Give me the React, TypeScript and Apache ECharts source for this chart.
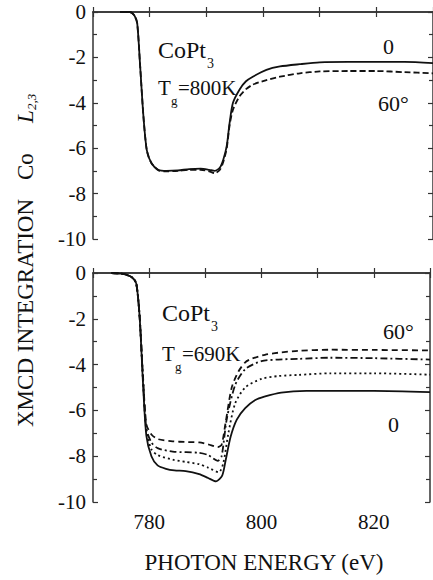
import React, { useEffect, useRef } from "react";
import * as echarts from "echarts";

// ---- data (photon energy in eV, integrated XMCD) ----
const xTicks = [770, 780, 790, 800, 810, 820, 830];
const yTicks = [0, -2, -4, -6, -8, -10];

// Top panel, Tg = 800K
const top0E = [774.8, 776.5, 777.3, 777.8, 778.3, 778.9, 779.5, 780.3, 781.5, 783, 785, 787, 789, 790.5, 791.5, 792.4, 793.0, 793.6, 794.1, 794.7, 795.9, 797, 798.2, 800.6, 803, 806.5, 810, 815, 820, 825, 830];
const top0V = [0, 0, -0.15, -0.5, -2.3, -4.6, -6.1, -6.65, -6.95, -7.0, -6.98, -6.92, -6.9, -6.95, -7.0, -6.85, -6.5, -5.9, -4.9, -4.0, -3.4, -3.05, -2.85, -2.55, -2.4, -2.3, -2.22, -2.2, -2.2, -2.2, -2.25];
const top60E = [774.8, 776.5, 777.3, 777.8, 778.3, 778.9, 779.5, 780.3, 781.5, 783, 785, 787, 789, 790.5, 791.5, 792.4, 793.0, 793.6, 794.1, 794.7, 795.9, 797, 798.2, 800.6, 803, 806.5, 810, 815, 820, 825, 830];
const top60V = [0, 0, -0.15, -0.5, -2.3, -4.6, -6.1, -6.65, -6.97, -7.02, -7.0, -6.95, -6.95, -7.02, -7.1, -6.95, -6.6, -6.0, -5.0, -4.3, -3.7, -3.4, -3.2, -3.0, -2.85, -2.7, -2.62, -2.6, -2.6, -2.65, -2.7];

// Bottom panel, Tg = 690K (0, dotted, dash-dot, 60°)
const bot0E = [773.3, 775, 776, 777, 777.7, 778.3, 778.9, 779.5, 780.4, 781.5, 783, 784.5, 786.5, 788.9, 790.5, 791.9, 793.0, 793.6, 794.5, 795.6, 797.1, 798.9, 800.5, 803.5, 808, 812, 820, 830];
const bot0V = [0, -0.03, -0.08, -0.2, -0.45, -1.9, -4.8, -7.1, -8.0, -8.4, -8.55, -8.62, -8.65, -8.78, -8.95, -9.1, -8.85, -8.2, -7.15, -6.4, -5.9, -5.55, -5.4, -5.22, -5.15, -5.15, -5.15, -5.2];
const botAE = [773.3, 775, 776, 777, 777.7, 778.3, 778.9, 779.5, 780.4, 781.5, 784.2, 786.5, 788.9, 790.5, 792.4, 793.2, 794.1, 795.3, 797.1, 800, 803, 806.5, 812.3, 820, 830];
const botAV = [0, -0.03, -0.08, -0.2, -0.45, -1.9, -4.7, -6.9, -7.7, -7.95, -8.15, -8.25, -8.35, -8.5, -8.7, -8.3, -7.0, -5.7, -5.0, -4.62, -4.5, -4.45, -4.38, -4.38, -4.44];
const botBE = [773.3, 775, 776, 777, 777.7, 778.3, 778.9, 779.5, 780.4, 781.5, 784.2, 788.9, 790.5, 792.2, 792.9, 793.8, 795.3, 797.1, 800, 803, 806.5, 812.3, 820, 830];
const botBV = [0, -0.03, -0.08, -0.2, -0.45, -1.9, -4.6, -6.8, -7.4, -7.65, -7.8, -7.85, -7.95, -8.2, -8.0, -6.4, -4.9, -4.2, -3.85, -3.78, -3.75, -3.7, -3.72, -3.78];
const bot60E = [773.3, 775, 776, 777, 777.7, 778.3, 778.9, 779.5, 780.4, 781.5, 784.2, 786.5, 788.9, 790.5, 792.2, 792.9, 793.6, 794.7, 795.9, 797.1, 798.2, 800.6, 803, 806.5, 812.3, 820, 830];
const bot60V = [0, -0.03, -0.08, -0.2, -0.45, -1.9, -4.5, -6.6, -7.05, -7.25, -7.35, -7.38, -7.4, -7.48, -7.6, -7.5, -6.55, -5.0, -4.3, -3.9, -3.75, -3.57, -3.48, -3.4, -3.35, -3.36, -3.38];

const zip = (xs: number[], ys: number[]) => xs.map((x, i) => [x, ys[i]]);

const FONT = "Liberation Serif";
const INK = "#111";

export default function App() {
  const ref = useRef<HTMLDivElement>(null);
  useEffect(() => {
    if (!ref.current) return;
    const chart = echarts.init(ref.current, null, { renderer: "svg" });

    const axisLine = { show: true, lineStyle: { color: "#333", width: 1.5 } };
    const mkX = (gridIndex: number, position: "top" | "bottom", labels: boolean) => ({
      type: "value",
      gridIndex,
      position,
      min: xTicks[0],
      max: xTicks[xTicks.length - 1],
      interval: 10,
      axisLine,
      axisTick: { show: true, inside: true, length: 5, lineStyle: { color: "#333", width: 1.2 } },
      axisLabel: {
        show: labels,
        margin: 9,
        fontFamily: FONT,
        fontSize: 21,
        color: INK,
        formatter: (v: number) => (v % 20 === 0 && v !== 770 && v !== 830 ? String(v) : ""),
      },
      splitLine: { show: false },
    });
    const mkY = (gridIndex: number, position: "left" | "right", labels: boolean) => ({
      type: "value",
      gridIndex,
      position,
      min: yTicks[yTicks.length - 1],
      max: yTicks[0],
      interval: 2,
      axisLine,
      axisTick: { show: true, inside: true, length: 5, lineStyle: { color: "#333", width: 1.2 } },
      minorTick: { show: true, splitNumber: 2, length: 4, lineStyle: { color: "#333", width: 1.2 } },
      axisLabel: { show: labels, margin: 7, fontFamily: FONT, fontSize: 21, color: INK },
      splitLine: { show: false },
    });

    const line = (name: string, data: number[][], xi: number, yi: number, type: any) => ({
      type: "line",
      name,
      data,
      xAxisIndex: xi,
      yAxisIndex: yi,
      showSymbol: false,
      symbol: "none",
      smooth: 0.25,
      lineStyle: { color: INK, width: 1.8, type },
    });

    const txt = (text: string, x: number, y: number, size: number, extra: any = {}) => ({
      type: "text",
      x,
      y,
      style: { text, fontFamily: FONT, fontSize: size, fill: INK, verticalAlign: "middle", ...extra },
    });

    chart.setOption({
      animation: false,
      grid: [
        { left: 93, top: 12, width: 342, height: 227 },
        { left: 93, top: 273, width: 342, height: 229 },
      ],
      xAxis: [mkX(0, "bottom", false), mkX(0, "top", false), mkX(1, "bottom", true), mkX(1, "top", false)],
      yAxis: [mkY(0, "left", true), mkY(0, "right", false), mkY(1, "left", true), mkY(1, "right", false)],
      series: [
        line("top 0", zip(top0E, top0V), 0, 0, "solid"),
        line("top 60", zip(top60E, top60V), 0, 0, [6, 3]),
        line("bot 0", zip(bot0E, bot0V), 2, 2, "solid"),
        line("bot dotted", zip(botAE, botAV), 2, 2, [2, 3]),
        line("bot dashdot", zip(botBE, botBV), 2, 2, [7, 3, 2, 3]),
        line("bot 60", zip(bot60E, bot60V), 2, 2, [6, 4]),
      ],
      graphic: [
        // top panel annotations
        txt("CoPt", 158, 50, 24),
        txt("3", 207, 63, 14),
        txt("T", 158, 88, 21),
        txt("g", 171, 100, 13),
        txt("=800K", 178, 88, 21),
        txt("0", 383, 46, 22),
        txt("60°", 378, 103, 22),
        // bottom panel annotations
        txt("CoPt", 162, 313, 24),
        txt("3", 211, 326, 14),
        txt("T", 162, 354, 21),
        txt("g", 175, 366, 13),
        txt("=690K", 182, 354, 21),
        txt("60°", 383, 331, 22),
        txt("0", 388, 424, 22),
        // axis titles
        txt("PHOTON ENERGY (eV)", 264, 562, 23, { align: "center" }),
        {
          type: "group",
          x: 25.5,
          y: 427,
          rotation: Math.PI / 2,
          children: [
            txt("XMCD INTEGRATION", 0, 0, 23),
            txt("Co", 247, 0, 23),
            txt("L", 304, 0, 23, { fontStyle: "italic" }),
            txt("2,3", 317, 6, 13, { fontStyle: "italic" }),
          ],
        },
      ],
    });
    return () => chart.dispose();
  }, []);
  return (
    <div
      ref={ref}
      style={{ position: "fixed", left: 0, top: 0, width: 433, height: 580, background: "#fff" }}
    />
  );
}
